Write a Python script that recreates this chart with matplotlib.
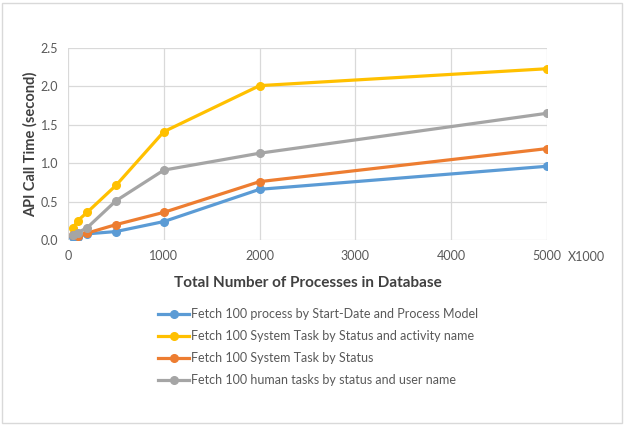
import matplotlib.pyplot as plt
from matplotlib.patches import Rectangle

plt.rcParams['font.family'] = ['Lato', 'DejaVu Sans']

# number of processes (x1000)
processes = [50, 100, 200, 500, 1000, 2000, 5000]

labels = ['Fetch 100 process by Start-Date and Process Model',
          'Fetch 100 System Task by Status and activity name',
          'Fetch 100 System Task by Status',
          'Fetch 100 human tasks by status and user name']
start_date = [0.04, 0.04, 0.08, 0.11, 0.24, 0.66, 0.96]
activity_name = [0.15, 0.25, 0.36, 0.71, 1.41, 2.01, 2.23]
status = [0.06, 0.05, 0.09, 0.20, 0.36, 0.76, 1.19]
human_tasks = [0.07, 0.095, 0.16, 0.51, 0.91, 1.13, 1.65]
colors = ['#5B9BD5', '#FFC000', '#ED7D31', '#A5A5A5']

fig = plt.figure(figsize=(6.25, 4.25), dpi=100)
ax = fig.add_axes([68/625, 1-240/425, (547-68)/625, (240-48)/425])

for ys, lab, c in zip([start_date, activity_name, status, human_tasks], labels, colors):
    ax.plot(processes, ys, color=c, lw=2.3, marker='o', ms=5.5, label=lab, zorder=3)

ax.set_xlim(0, 5000)
ax.set_ylim(0, 2.5)
ax.set_xticks(range(0, 5001, 1000))
ax.set_yticks([0, 0.5, 1.0, 1.5, 2.0, 2.5])
ax.set_yticklabels(['0.0', '0.5', '1.0', '1.5', '2.0', '2.5'])
ax.grid(True, color='#D9D9D9', lw=0.9)
ax.set_axisbelow(True)
for s in ax.spines.values():
    s.set_visible(False)
ax.tick_params(length=0, labelsize=9, colors='#595959', pad=7)

ax.set_xlabel('Total Number of Processes in Database', fontsize=11, fontweight='bold',
              color='#404040', labelpad=10)
ax.set_ylabel('API Call Time (second)', fontsize=10.5, fontweight='bold',
              color='#404040', labelpad=2)
fig.text(586/625, 1-257/425, 'X1000', fontsize=9, color='#595959', ha='center', va='center')

fig.legend(loc='upper left', bbox_to_anchor=(158/625, 1-308/425), frameon=False,
           fontsize=9, labelcolor='#595959', handlelength=2.5, handletextpad=0.1,
           labelspacing=0.8, borderpad=0, borderaxespad=0)

fig.add_artist(Rectangle((2/625, 2/425), 620/625, 420/425, transform=fig.transFigure,
                         fill=False, edgecolor='#D9D9D9', lw=1))

fig.savefig('out.png', dpi=100)
